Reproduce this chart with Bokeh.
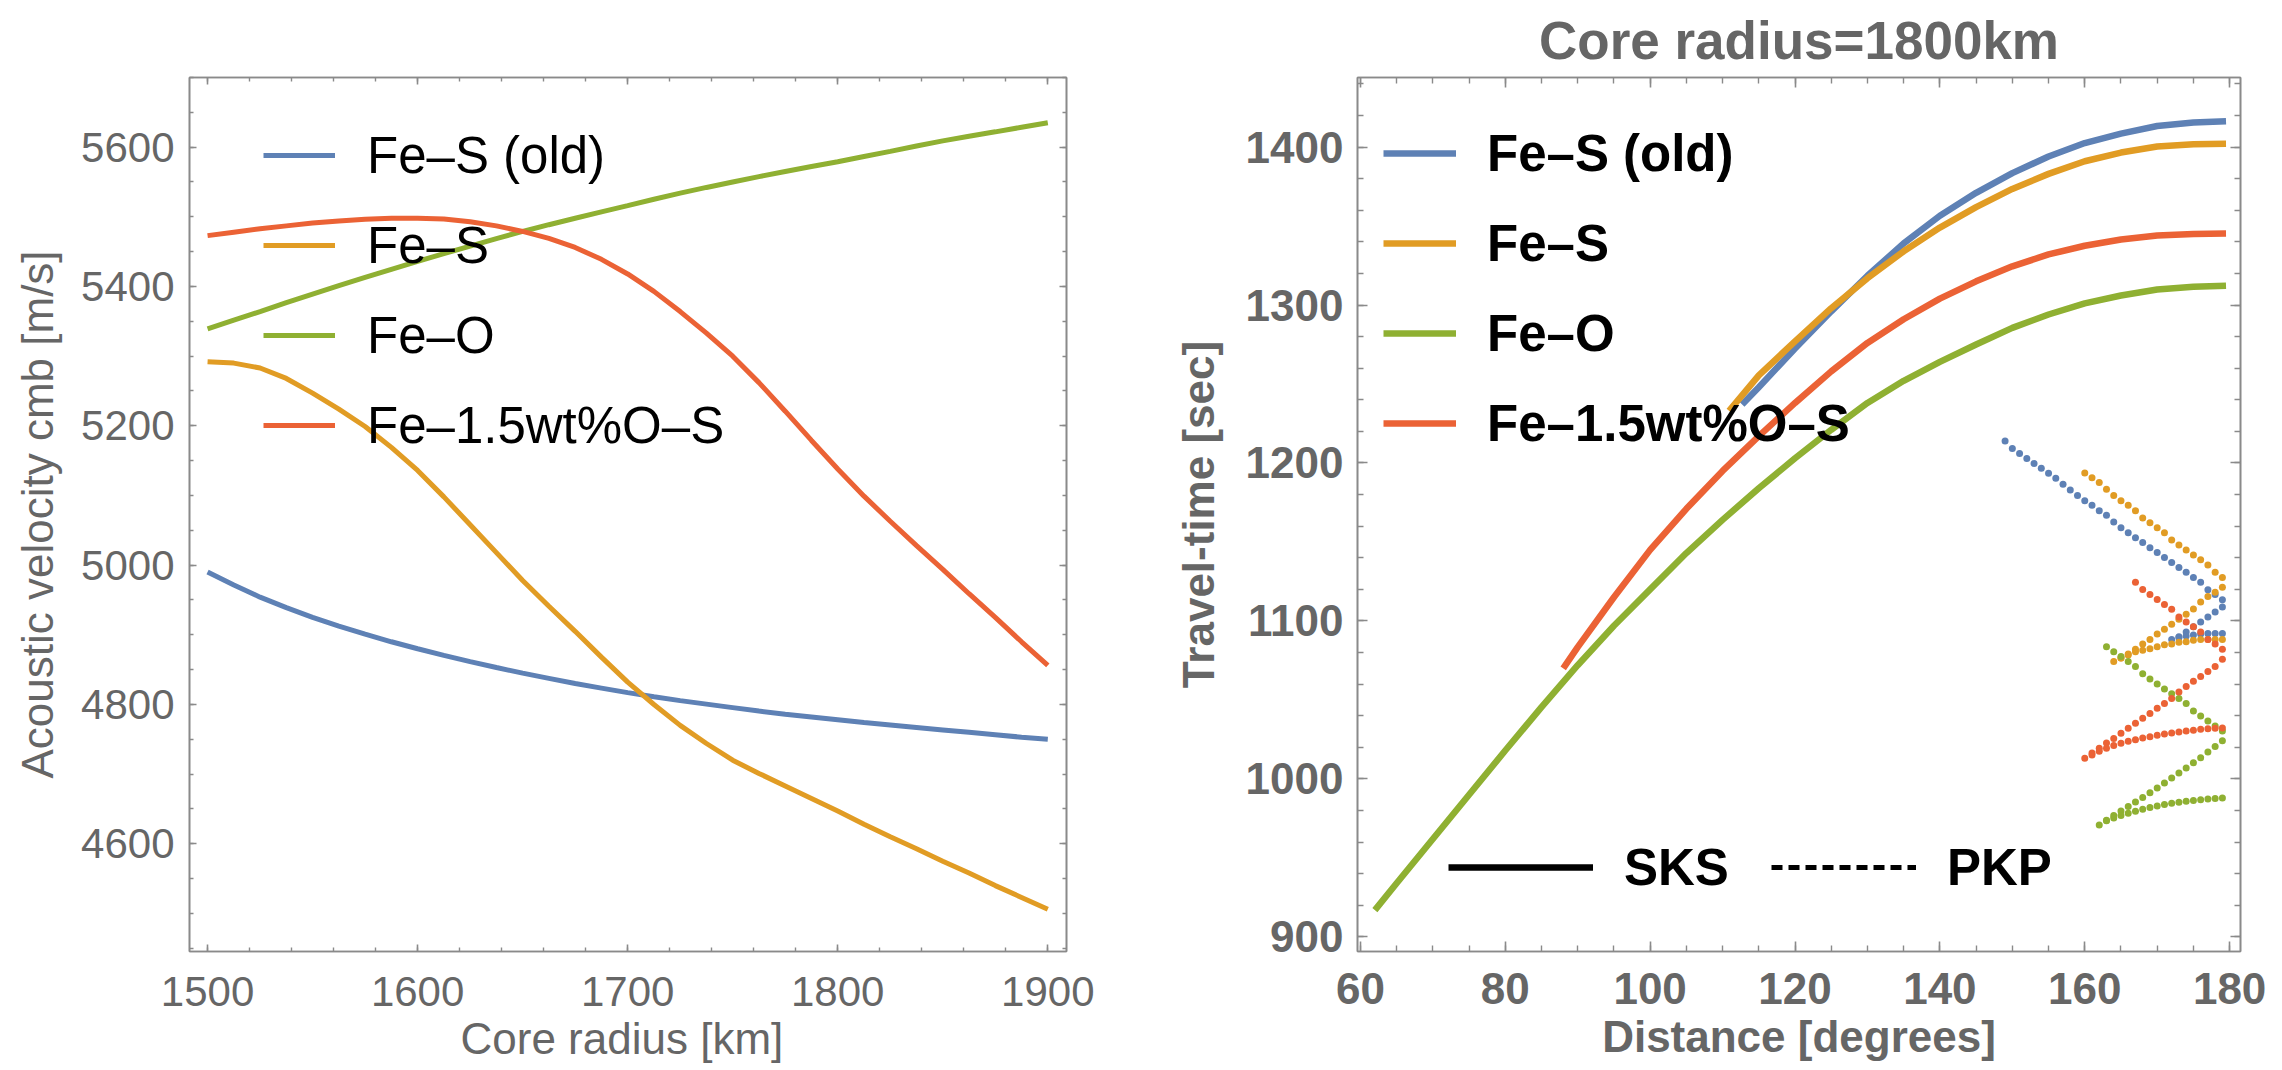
from bokeh.plotting import figure
from bokeh.models import (Range1d, LinearAxis, Legend, LegendItem, SingleIntervalTicker,
                          CustomJSTickFormatter)
from bokeh.layouts import row
from bokeh.embed import file_html
from bokeh.resources import INLINE

# ---------------- data: left panel (acoustic velocity at CMB) ----------------
RADIUS = [1500, 1512.5, 1525, 1537.5, 1550, 1562.5, 1575, 1587.5, 1600, 1612.5, 1625, 1637.5,
          1650, 1662.5, 1675, 1687.5, 1700, 1712.5, 1725, 1737.5, 1750, 1762.5, 1775, 1787.5,
          1800, 1812.5, 1825, 1837.5, 1850, 1862.5, 1875, 1887.5, 1900]
V_FES_OLD = [4990, 4971.5, 4954, 4939, 4925, 4912.5, 4901, 4890, 4880, 4870.5, 4861.5, 4853,
             4845, 4837.5, 4830, 4823.5, 4817, 4811, 4805.5, 4800.5, 4795.5, 4790.5, 4786, 4782,
             4778, 4774, 4770.5, 4767, 4763.5, 4760, 4756.5, 4753, 4750]
V_FES = [5292, 5290, 5283, 5268, 5247, 5224, 5199, 5169, 5136, 5098, 5058, 5018,
         4978, 4941, 4905, 4868, 4832, 4800, 4770, 4744, 4720, 4701, 4683, 4665,
         4647, 4628, 4610, 4593, 4575, 4558, 4540, 4523, 4506]
V_FEO = [5339, 5351.7, 5364, 5376.7, 5389, 5401.2, 5413, 5424.7, 5436, 5447.2, 5458, 5468.7,
         5479, 5488.7, 5498, 5507.2, 5516, 5525.2, 5534, 5542.2, 5550, 5557.7, 5565, 5572.2,
         5579, 5586.7, 5594, 5601.7, 5609, 5615.7, 5622, 5628.6, 5635]
V_FEOS = [5473, 5478, 5483, 5487, 5491, 5494, 5496.5, 5498, 5498, 5497, 5493, 5487,
          5479, 5469, 5456, 5439, 5418, 5393, 5364, 5333, 5300, 5262, 5221, 5179,
          5138, 5099, 5063, 5028, 4994, 4959, 4925, 4890, 4856]

LABELS = ["Fe\u2013S (old)", "Fe\u2013S", "Fe\u2013O", "Fe\u20131.5wt%O\u2013S"]
COLORS = ["#5E81B5", "#E19C24", "#8FB032", "#EB6235"]

# ---------------- data: right panel, SKS travel times ----------------
SKS_FES_OLD_X = [112.7, 115, 120, 125, 130, 135, 140, 145, 150, 155, 160, 165, 170, 175, 179.5]
SKS_FES_OLD_Y = [1237, 1248, 1272.5, 1296, 1318.5, 1339, 1356.5, 1371, 1383.5, 1394, 1402.5, 1408.5, 1413.3, 1415.5, 1416.3]
SKS_FES_X = [110.9, 115, 120, 125, 130, 135, 140, 145, 150, 155, 160, 165, 170, 175, 179.5]
SKS_FES_Y = [1233, 1255.5, 1277, 1298, 1317, 1334, 1349, 1362, 1373.5, 1383, 1391, 1396.5, 1400.3, 1401.8, 1402.1]
SKS_FEO_X = [62, 65, 70, 75, 80, 85, 90, 95, 100, 105, 110, 115, 120, 125, 130, 135, 140, 145,
             150, 155, 160, 165, 170, 175, 179.5]
SKS_FEO_Y = [917, 934, 962, 990, 1018, 1045.5, 1072, 1097, 1120, 1143, 1164, 1184, 1203, 1221,
             1238, 1252, 1264, 1275, 1285.5, 1294, 1301, 1306, 1309.8, 1311.5, 1312.2]
SKS_FEOS_X = [88, 90, 95, 100, 105, 110, 115, 120, 125, 130, 135, 140, 145, 150, 155, 160,
              165, 170, 175, 179.5]
SKS_FEOS_Y = [1070, 1083.5, 1115, 1145, 1171, 1195, 1217, 1238, 1258, 1276, 1291, 1304, 1315,
              1324.5, 1332, 1337.5, 1341.5, 1344, 1345, 1345.3]

# ---------------- data: right panel, PKP branches (dots) ----------------
PKP_FES_OLD_1_X = [149, 150, 151, 152, 153, 154, 155, 156, 157, 158, 159, 160, 161, 162, 163, 164,
                   165, 166, 167, 168, 169, 170, 171, 172, 173, 174, 175, 176, 177, 178, 179]
PKP_FES_OLD_1_Y = [1213.9, 1209.1, 1206.0, 1202.9, 1199.7, 1196.6, 1193.5, 1190.3, 1186.5, 1182.9,
                   1179.5, 1176.1, 1173.2, 1169.8, 1166.9, 1162.6, 1159.0, 1155.8, 1152.7, 1149.6,
                   1146.4, 1143.3, 1140.2, 1137.0, 1133.9, 1130.8, 1127.6, 1124.5, 1119.7, 1116.8,
                   1113.4]
PKP_FES_OLD_2_X = [172, 173, 174, 175, 176, 177, 178, 179]
PKP_FES_OLD_2_Y = [1088.3, 1090.0, 1093.1, 1096.3, 1099.4, 1102.5, 1105.7, 1108.8]
PKP_FES_OLD_3_X = [173, 174, 175, 176, 177, 178, 179]
PKP_FES_OLD_3_Y = [1089.5, 1090.5, 1091.2, 1091.8, 1092.1, 1092.1, 1092.1]

PKP_FES_1_X = [160, 161, 162, 163, 164, 165, 166, 167, 168, 169, 170, 171, 172, 173, 174, 175,
               176, 177, 178, 179]
PKP_FES_1_Y = [1193.7, 1190.7, 1187.6, 1183.4, 1179.5, 1176.1, 1173.2, 1169.8, 1165.2, 1162.1,
               1159.0, 1155.8, 1151.2, 1148.1, 1145.0, 1141.8, 1138.7, 1135.4, 1130.8, 1127.6]
PKP_FES_2_X = [164, 165, 166, 167, 168, 169, 170, 171, 172, 173, 174, 175, 176, 177, 178, 179]
PKP_FES_2_Y = [1074.3, 1076.5, 1079.1, 1082.1, 1085.4, 1088.3, 1091.7, 1094.8, 1097.9, 1101.1,
               1104.2, 1107.6, 1112.0, 1115.5, 1118.2, 1121.4]
PKP_FES_3_X = [165, 166, 167, 168, 169, 170, 171, 172, 173, 174, 175, 176, 177, 178, 179]
PKP_FES_3_Y = [1076.5, 1078.5, 1080.6, 1081.5, 1082.5, 1083.7, 1085.0, 1085.4, 1086.5, 1086.9,
               1087.8, 1088.3, 1088.3, 1088.3, 1088.3]

PKP_FEO_1_X = [163, 164, 165, 166, 167, 168, 169, 170, 171, 172, 173, 174, 175, 176, 177, 178, 179]
PKP_FEO_1_Y = [1083.7, 1080.6, 1077.5, 1074.3, 1071.2, 1066.6, 1063.3, 1060.1, 1057.0, 1053.9,
               1050.9, 1047.8, 1043.0, 1039.9, 1036.7, 1033.6, 1030.4]
PKP_FEO_2_X = [162, 163, 164, 165, 166, 167, 168, 169, 170, 171, 172, 173, 174, 175, 176, 177,
               178, 179]
PKP_FEO_2_Y = [970.9, 973.8, 976.9, 979.8, 982.6, 985.4, 988.3, 991.3, 994.3, 997.4, 1000.6,
               1003.8, 1007.0, 1010.2, 1013.5, 1017.0, 1020.5, 1024.2]
PKP_FEO_3_X = [163, 164, 165, 166, 167, 168, 169, 170, 171, 172, 173, 174, 175, 176, 177, 178, 179]
PKP_FEO_3_Y = [973.5, 975.3, 976.9, 978.3, 979.6, 980.8, 981.9, 982.9, 983.8, 984.6, 985.3, 985.9,
               986.4, 986.9, 987.3, 987.6, 987.9]

PKP_FEOS_1_X = [167, 168, 169, 170, 171, 172, 173, 174, 175, 176, 177, 178, 179]
PKP_FEOS_1_Y = [1124.5, 1119.9, 1116.8, 1113.6, 1110.5, 1107.4, 1102.5, 1099.4, 1096.3, 1093.1,
                1088.3, 1085.4, 1082.1]
PKP_FEOS_2_X = [160, 161, 162, 163, 164, 165, 166, 167, 168, 169, 170, 171, 172, 173, 174, 175,
                176, 177, 178, 179]
PKP_FEOS_2_Y = [1013.1, 1016.4, 1019.4, 1022.7, 1025.6, 1029.0, 1032.1, 1035.3, 1038.4, 1041.5,
                1044.7, 1047.8, 1050.9, 1055.0, 1058.5, 1061.8, 1064.9, 1068.1, 1071.2, 1075.8]
PKP_FEOS_3_X = [161, 162, 163, 164, 165, 166, 167, 168, 169, 170, 171, 172, 173, 174, 175, 176,
                177, 178, 179]
PKP_FEOS_3_Y = [1015.2, 1017.5, 1019.5, 1021.2, 1022.6, 1023.8, 1024.9, 1025.9, 1026.8, 1027.6,
                1028.4, 1029.1, 1029.8, 1030.4, 1030.9, 1031.4, 1031.8, 1032.1, 1032.3]

FONT = "Liberation Sans"
FRAME = "#8a8a8a"
TXT = "#666666"
NAN = float("nan")


def style_ticks(ax, maj, mnr):
    ax.axis_line_color = FRAME
    ax.axis_line_width = 1.6
    ax.major_tick_line_color = FRAME
    ax.minor_tick_line_color = FRAME
    ax.major_tick_line_width = 1.6
    ax.minor_tick_line_width = 1.4
    ax.major_tick_in = maj
    ax.major_tick_out = 0
    ax.minor_tick_in = mnr
    ax.minor_tick_out = 0


def frame_axes(p, xticker, yticker, tick_size, label_size, bold, maj, mnr, xstand, ystand):
    style = "bold" if bold else "normal"
    for ax in p.xaxis + p.yaxis:
        style_ticks(ax, maj, mnr)
        ax.major_label_text_font = FONT
        ax.major_label_text_font_size = tick_size
        ax.major_label_text_font_style = style
        ax.major_label_text_color = TXT
        ax.axis_label_text_font = FONT
        ax.axis_label_text_font_size = label_size
        ax.axis_label_text_font_style = style
        ax.axis_label_text_color = TXT
    p.xaxis[0].ticker = xticker
    p.yaxis[0].ticker = yticker
    p.xaxis[0].major_label_standoff = xstand
    p.yaxis[0].major_label_standoff = ystand
    for loc, tk in (("above", xticker), ("right", yticker)):
        ax = LinearAxis(ticker=tk, formatter=CustomJSTickFormatter(code="return ''"))
        style_ticks(ax, maj, mnr)
        ax.major_label_standoff = 0
        p.add_layout(ax, loc)
    p.grid.visible = False
    p.outline_line_color = FRAME
    p.outline_line_width = 1.6


# ---------------- left figure ----------------
p1 = figure(width=1140, height=1070, x_range=Range1d(1491.4, 1908.9), y_range=Range1d(4445.4, 5700),
            output_backend="svg", toolbar_location=None,
            min_border_left=189, min_border_right=74, min_border_top=77, min_border_bottom=117)
p1.xaxis.axis_label = "Core radius  [km]"
p1.yaxis.axis_label = "Acoustic velocity cmb [m/s]"
frame_axes(p1, SingleIntervalTicker(interval=100, num_minor_ticks=5),
           SingleIntervalTicker(interval=200, num_minor_ticks=4),
           "42px", "44px", False, 7, 4, 25, 15)
p1.xaxis[0].axis_label_standoff = 40
p1.yaxis[0].axis_label_standoff = 16

r_left = []
for ys, c in zip([V_FES_OLD, V_FES, V_FEO, V_FEOS], COLORS):
    r_left.append(p1.line(RADIUS, ys, line_color=c, line_width=5))

leg1 = Legend(items=[LegendItem(label=l, renderers=[r]) for l, r in zip(LABELS, r_left)],
              location=(74, 493), orientation="vertical", glyph_width=72, glyph_height=66,
              label_height=66, spacing=24, label_standoff=32, padding=0, margin=0,
              background_fill_alpha=0, border_line_alpha=0,
              label_text_font=FONT, label_text_font_size="51px", label_text_color="black")
p1.add_layout(leg1)

# ---------------- right figure ----------------
p2 = figure(width=1142, height=1070, x_range=Range1d(59.6, 181.5), y_range=Range1d(890.8, 1444),
            output_backend="svg", toolbar_location=None,
            min_border_left=217, min_border_right=42, min_border_top=69, min_border_bottom=119)
p2.title.text = "Core radius=1800km"
p2.title.align = "center"
p2.title.text_font = FONT
p2.title.text_font_size = "53px"
p2.title.text_font_style = "bold"
p2.title.text_color = TXT
p2.title.standoff = 16
p2.xaxis.axis_label = "Distance [degrees]"
p2.yaxis.axis_label = "Travel-time [sec]"
frame_axes(p2, SingleIntervalTicker(interval=20, num_minor_ticks=4),
           SingleIntervalTicker(interval=100, num_minor_ticks=5),
           "44px", "44px", True, 10, 6, 21, 14)
p2.xaxis[0].axis_label_standoff = 40
p2.yaxis[0].axis_label_standoff = 20

sks = [(SKS_FES_OLD_X, SKS_FES_OLD_Y), (SKS_FES_X, SKS_FES_Y), (SKS_FEO_X, SKS_FEO_Y),
       (SKS_FEOS_X, SKS_FEOS_Y)]
pkp = [
    [(PKP_FES_OLD_1_X, PKP_FES_OLD_1_Y), (PKP_FES_OLD_2_X, PKP_FES_OLD_2_Y), (PKP_FES_OLD_3_X, PKP_FES_OLD_3_Y)],
    [(PKP_FES_1_X, PKP_FES_1_Y), (PKP_FES_2_X, PKP_FES_2_Y), (PKP_FES_3_X, PKP_FES_3_Y)],
    [(PKP_FEO_1_X, PKP_FEO_1_Y), (PKP_FEO_2_X, PKP_FEO_2_Y), (PKP_FEO_3_X, PKP_FEO_3_Y)],
    [(PKP_FEOS_1_X, PKP_FEOS_1_Y), (PKP_FEOS_2_X, PKP_FEOS_2_Y), (PKP_FEOS_3_X, PKP_FEOS_3_Y)],
]
r_right = []
for (xs, ys), c in zip(sks, COLORS):
    r_right.append(p2.line(xs, ys, line_color=c, line_width=6.5))
for branches, c in zip(pkp, COLORS):
    for xs, ys in branches:
        p2.scatter(xs, ys, size=7, fill_color=c, line_color=None)

leg2 = Legend(items=[LegendItem(label=l, renderers=[r]) for l, r in zip(LABELS, r_right)],
              location=(26, 495), orientation="vertical", glyph_width=73, glyph_height=66,
              label_height=66, spacing=24, label_standoff=31, padding=0, margin=0,
              background_fill_alpha=0, border_line_alpha=0,
              label_text_font=FONT, label_text_font_size="51px", label_text_font_style="bold",
              label_text_color="black")
p2.add_layout(leg2)

# legend-only renderers (no visible data) for the SKS / PKP line-style key
r_sks = p2.line(x=[NAN], y=[NAN], line_color="black", line_width=6.5)
r_pkp = p2.line(x=[NAN], y=[NAN], line_color="black", line_width=5, line_dash="11 6")
leg3 = Legend(items=[LegendItem(label="SKS", renderers=[r_sks]), LegendItem(label="PKP", renderers=[r_pkp])],
              location=(91, 51), orientation="horizontal", glyph_width=145, glyph_height=66,
              label_height=66, spacing=42, label_standoff=31, padding=0, margin=0,
              background_fill_alpha=0, border_line_alpha=0,
              label_text_font=FONT, label_text_font_size="51px", label_text_font_style="bold",
              label_text_color="black")
p2.add_layout(leg3)

layout = row(p1, p2)
open("out.html", "w").write(file_html(layout, INLINE))
